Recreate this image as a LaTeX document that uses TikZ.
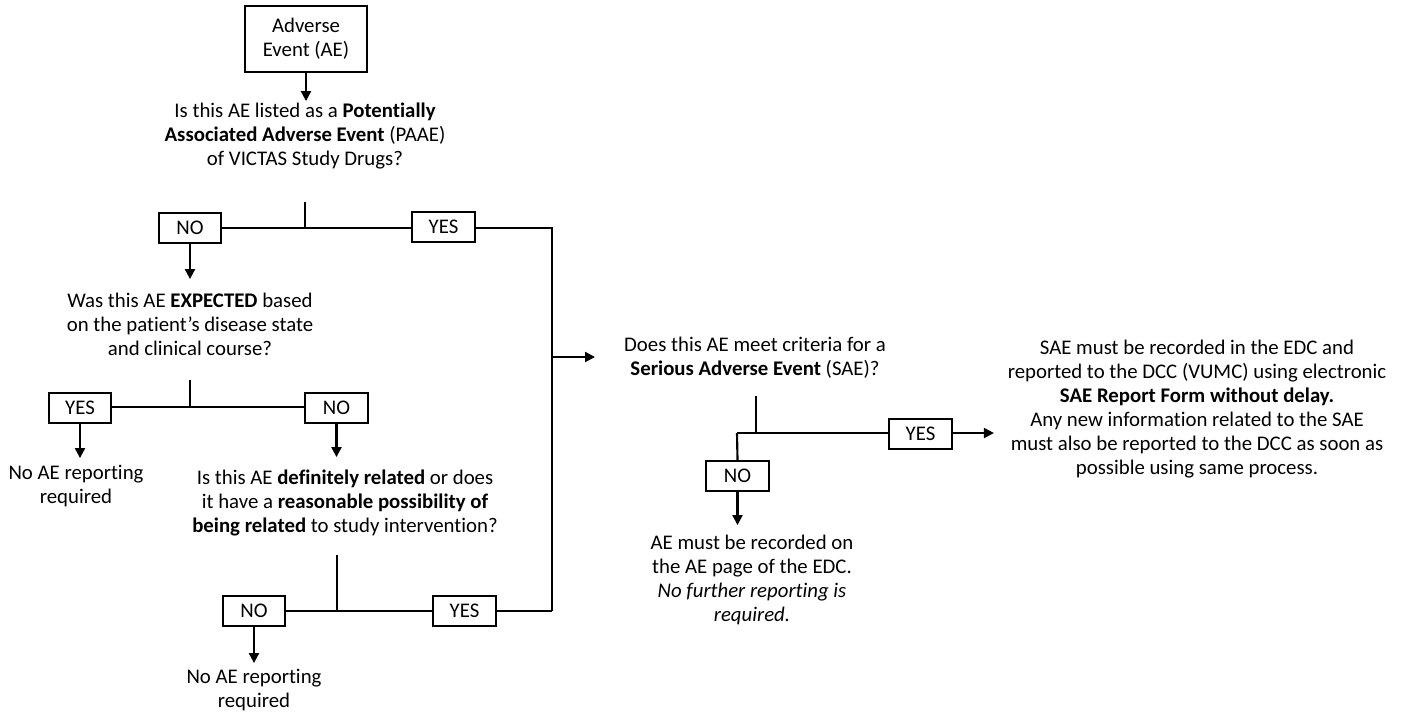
\documentclass[tikz,border=0pt]{standalone}
\usepackage{fontspec}
\setmainfont{Carlito}[Ligatures=NoCommon]
\usetikzlibrary{arrows.meta}

\tikzset{every picture/.style={line width=1.6pt}}
\tikzset{
  txt/.style={align=center, inner sep=0.75pt, font=\fontsize{15.6}{18}\selectfont},
  answer/.style={draw, inner sep=0pt, minimum width=47pt, minimum height=22.5pt, font=\fontsize{15.6}{18}\selectfont},
  arr/.style={-{Triangle[width=7.5pt,length=7.5pt]}}
}

\begin{document}
\begin{tikzpicture}[x=0.75pt,y=0.75pt,yscale=-1,xscale=1]
		\useasboundingbox (0,0) rectangle (1408,715);

		%Start box
		\node [draw, txt, minimum width=92pt, minimum height=49.5pt] (ae) at (306,39) {Adverse\\Event (AE)};

		% Text Node: first question
		\node [txt] (q1) at (305,136) {Is this AE listed as a \textbf{Potentially}\\\textbf{Associated Adverse Event} (PAAE)\\of VICTAS Study Drugs?};
		\coordinate (s1) at (305,202);
		\coordinate (j1) at (305,228);
		\node [answer] (no1) at (190,228) {NO};
		\node [answer] (yes1) at (443.5,227) {YES};
		% right hand trunk
		\coordinate (r1) at (552,228);
		\coordinate (rm) at (552,357);
		\coordinate (r2) at (552,611);

		% Text Node: second question
		\node [txt] (q2) at (190,324) {Was this AE \textbf{EXPECTED} based\\on the patient’s disease state\\and clinical course?};
		\coordinate (s2) at (190,380);
		\coordinate (j2) at (190,407);
		\node [answer] (yes2) at (80,408) {YES};
		\node [answer] (no2) at (336.5,408) {NO};
		\node [txt] (end1) at (76,486) {No AE reporting\\required};

		% Text Node: third question
		\node [txt] (q3) at (345,503) {Is this AE \textbf{definitely related} or does\\it have a \textbf{reasonable possibility of}\\\textbf{being related} to study intervention?};
		\coordinate (s3) at (337,555);
		\coordinate (j3) at (337,611);
		\node [answer] (no3) at (254,611) {NO};
		\node [answer] (yes3) at (464.5,611) {YES};
		\node [txt] (end2) at (254,690) {No AE reporting\\required};

		% Text Node: SAE question
		\node [txt] (sae) at (755,358) {Does this AE meet criteria for a\\\textbf{Serious Adverse Event} (SAE)?};
		\coordinate (s4) at (756,396);
		\coordinate (j4) at (756,433);
		\coordinate (k4) at (737,433);
		\node [answer] (yes4) at (920.5,434) {YES};
		\node [answer] (no4) at (737.5,476) {NO};
		\node [txt] (end3) at (752,580) {AE must be recorded on\\the AE page of the EDC.\\\textit{No further reporting is}\\\textit{required.}};
		\node [txt] (report) at (1197,409) {SAE must be recorded in the EDC and\\reported to the DCC (VUMC) using electronic\\\textbf{SAE Report Form without delay.}\\Any new information related to the SAE\\must also be reported to the DCC as soon as\\possible using same process.};

		% Connectors
		\draw [arr] (ae.south) -- ++(0,28);
		\draw (s1) -- (j1);
		\draw (no1.east |- j1) -- (yes1.west |- j1);
		\draw (yes1.east |- j1) -- (r1) -- (r2);
		\draw [arr] (rm) -- ++(43,0);

		\draw [arr] (no1.south) -- ++(0,35);
		\draw (s2) -- (j2);
		\draw (yes2.east |- j2) -- (no2.west |- j2);
		\draw [arr] (yes2.south) -- ++(0,34);
		\draw [arr] (no2.south) -- ++(0,33);

		\draw (s3) -- (j3);
		\draw (no3.east) -- (yes3.west);
		\draw (yes3.east) -- (r2);
		\draw [arr] (no3.south) -- ++(0,36);

		\draw (s4) -- (j4);
		\draw (k4) -- (yes4.west |- k4);
		\draw (k4) -- (no4.north);
		\draw [arr] (yes4.east |- k4) -- ++(41,0);
		\draw [arr] (no4.south) -- ++(0,33);

\end{tikzpicture}
\end{document}
